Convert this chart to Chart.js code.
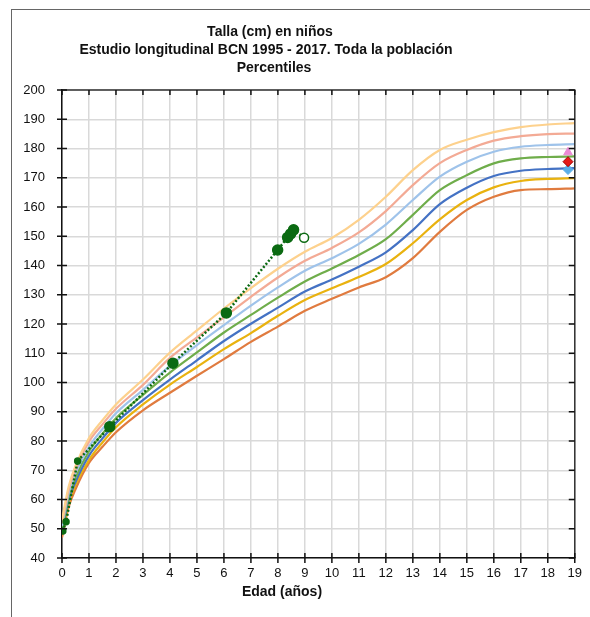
<!DOCTYPE html>
<html>
<head>
<meta charset="utf-8">
<script src="https://cdn.jsdelivr.net/npm/chart.js@4.4.1/dist/chart.umd.min.js"></script>
<style>
html,body{margin:0;padding:0;background:#fff;overflow:hidden;}
#frame{position:absolute;left:11px;top:9px;width:640px;height:660px;border:1.5px solid #666;}
#c{position:absolute;left:0;top:0;}
</style>
</head>
<body>
<div id="frame"></div>
<canvas id="c" width="590" height="617"></canvas>
<script>
// edad (años) de los puntos de las curvas
const edades = [0, 0.25, 0.5, 1, 1.5, 2, 3, 4, 5, 6, 7, 8, 9, 10, 11, 12, 13, 14, 15, 16, 17, 18, 19];

const p97 = [53, 64.5, 71.5, 81, 87.1, 92.5, 101, 110.2, 117.8, 125.3, 132.3, 138.9, 144.7, 149.4, 155.6, 163.5, 172.6, 179.5, 183, 185.6, 187.3, 188.2, 188.7];
const p90 = [52, 63.5, 70.3, 79.8, 85.7, 91, 99.2, 108.4, 115.4, 122.3, 129.3, 135.9, 141.6, 146, 151.3, 158.6, 167.5, 175, 179.5, 182.7, 184.2, 184.9, 185.1];
const p75 = [51, 62.3, 69, 78, 84.1, 89.5, 97.5, 105.7, 112.8, 119.6, 126.3, 132.5, 138.2, 142.5, 147.4, 154, 162.4, 170.4, 175.5, 178.9, 180.6, 181.2, 181.5];
const p50 = [50, 61, 67.5, 76.5, 82.5, 87.8, 95.8, 103.4, 110.3, 117.1, 123.1, 129, 134.5, 139, 143.6, 149, 157.3, 165.8, 170.9, 174.9, 176.6, 177.1, 177.3];
const p25 = [49, 59.8, 66, 75, 80.9, 86.2, 94, 101, 107.6, 114.2, 120.1, 125.6, 131.1, 135.2, 139.6, 144.5, 152.1, 161, 166.6, 170.6, 172.4, 173, 173.3];
const p10 = [48, 58.8, 65, 73.5, 79.5, 84.7, 92.5, 99.3, 105.3, 111.4, 116.9, 122.8, 128.2, 132.2, 136.1, 140.5, 147.6, 155.8, 162.4, 166.7, 168.9, 169.6, 169.9];
const p3  = [47, 57.5, 63.5, 72.5, 78, 83, 90.5, 96.5, 102.3, 108, 113.9, 119.1, 124.5, 128.6, 132.5, 136, 142.5, 151.5, 159, 163.5, 165.8, 166.1, 166.4];

// niño (mediciones)
const edadNino = [0.03, 0.15, 0.58, 1.77, 4.11, 6.09, 7.99, 8.36, 8.47, 8.58, 8.97];
const tallaNino = [49.2, 52.4, 73.2, 84.9, 106.6, 123.8, 145.3, 149.6, 150.8, 152.2, 149.5];

// tallas diana
const edadDiana = 18.75;
const tallaPadre = 178.7;
const tallaDiana = 175.5;
const tallaMadre = 172.8;

const titulo = ["Talla (cm) en niños", "Estudio longitudinal BCN 1995 - 2017. Toda la población", "Percentiles"];
const tituloX = "Edad (años)";

function serie(ys){
	let pts = [];
	for(let i = 0; i < edades.length; i++){
		pts.push({x: edades[i], y: ys[i]});
	}
	return pts;
}

function curva(label, ys, color){
	return {
		label: label,
		data: serie(ys),
		borderColor: color,
		borderWidth: 2.2,
		pointRadius: 0,
		cubicInterpolationMode: 'monotone',
		fill: false
	};
}

let ptsNino = [];
for(let i = 0; i < edadNino.length; i++){
	ptsNino.push({x: edadNino[i], y: tallaNino[i]});
}
const ultimo = edadNino.length - 1;

const decor = {
	id: 'decor',
	afterDraw(chart){
		const ctx = chart.ctx;
		const a = chart.chartArea;
		const xs = chart.scales.x, ys = chart.scales.y;
		ctx.save();
		ctx.strokeStyle = '#333';
		ctx.lineWidth = 1.5;
		ctx.beginPath();
		ctx.moveTo(a.left, a.top);
		ctx.lineTo(a.right, a.top);
		ctx.lineTo(a.right, a.bottom);
		ctx.stroke();
		ctx.strokeStyle = '#111';
		ctx.beginPath();
		xs.ticks.forEach(t => {
			const px = xs.getPixelForValue(t.value);
			ctx.moveTo(px, a.bottom - 5); ctx.lineTo(px, a.bottom + 5);
			ctx.moveTo(px, a.top); ctx.lineTo(px, a.top + 5);
		});
		ys.ticks.forEach(t => {
			const py = ys.getPixelForValue(t.value);
			ctx.moveTo(a.left - 5, py); ctx.lineTo(a.left + 5, py);
			ctx.moveTo(a.right - 6, py); ctx.lineTo(a.right, py);
		});
		ctx.stroke();
		ctx.fillStyle = '#111';
		ctx.font = 'bold 14px "Liberation Sans", Arial, sans-serif';
		ctx.textAlign = 'center';
		ctx.textBaseline = 'middle';
		const cx = [270, 266, 274];
		for(let i = 0; i < titulo.length; i++){
			ctx.fillText(titulo[i], cx[i], 32 + i * 18);
		}
		ctx.fillText(tituloX, 282, 592);
		ctx.restore();
	}
};

const datasets = [
	{
		label: 'Niño',
		data: ptsNino,
		borderColor: '#0b6a12',
		borderWidth: 2.5,
		borderDash: [2, 2],
		pointRadius: edadNino.map((e, i) => i === ultimo ? 4.5 : (e < 1 ? 3 : 5)),
		pointBackgroundColor: edadNino.map((e, i) => i === ultimo ? '#ffffff' : '#0b6a12'),
		pointBorderColor: '#0b6a12',
		pointBorderWidth: 1.5,
		tension: 0,
		fill: false
	},
	{
		label: 'Padre', data: [{x: edadDiana, y: tallaPadre}], showLine: false,
		pointStyle: 'triangle', pointRadius: 5, backgroundColor: '#ec8ad6', borderColor: '#ec8ad6'
	},
	{
		label: 'Diana', data: [{x: edadDiana, y: tallaDiana}], showLine: false,
		pointStyle: 'rectRot', pointRadius: 5, backgroundColor: '#e51a1a', borderColor: '#a00000'
	},
	{
		label: 'Madre', data: [{x: edadDiana, y: tallaMadre}], showLine: false,
		pointStyle: 'rectRot', pointRadius: 5, backgroundColor: '#5aaee8', borderColor: '#5aaee8'
	},
	curva('P97', p97, '#fdd18d'),
	curva('P90', p90, '#f3aa95'),
	curva('P75', p75, '#9fc3ea'),
	curva('P50', p50, '#6fad4b'),
	curva('P25', p25, '#4472c4'),
	curva('P10', p10, '#e9b20f'),
	curva('P3', p3, '#e07b3f')
];

const ctx = document.getElementById('c').getContext('2d');
new Chart(ctx, {
	type: 'line',
	data: {datasets: datasets},
	options: {
		responsive: false,
		animation: false,
		layout: {padding: {top: 90, right: 14, left: 0, bottom: 0}},
		plugins: {legend: {display: false}, tooltip: {enabled: false}, title: {display: false}},
		scales: {
			x: {
				type: 'linear', min: 0, max: 19,
				ticks: {stepSize: 1, color: '#111', padding: 8, font: {family: '"Liberation Sans", Arial', size: 13}},
				grid: {color: '#d9d9d9', lineWidth: 1.5, drawTicks: false},
				border: {color: '#111', width: 1.5},
				afterFit: s => { s.height = 59; }
			},
			y: {
				min: 40, max: 200,
				ticks: {stepSize: 10, color: '#111', padding: 17, font: {family: '"Liberation Sans", Arial', size: 13}},
				grid: {color: '#d9d9d9', lineWidth: 1.5, drawTicks: false},
				border: {color: '#111', width: 1.5},
				afterFit: s => { s.width = 62; }
			}
		}
	},
	plugins: [decor]
});
</script>
</body>
</html>
